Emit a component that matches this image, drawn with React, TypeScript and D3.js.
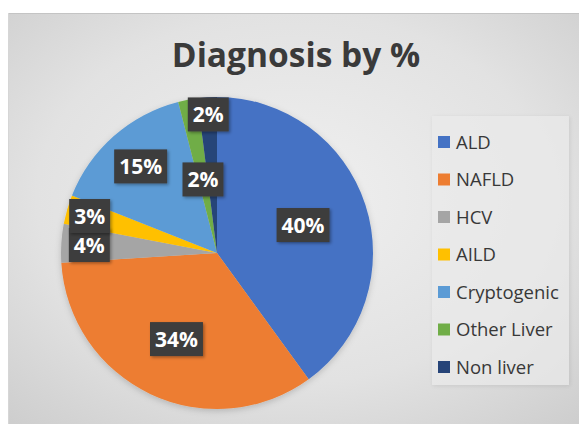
import React, { useEffect, useRef } from "react";
import * as d3 from "d3";

const categories = ["ALD", "NAFLD", "HCV", "AILD", "Cryptogenic", "Other Liver", "Non liver"];
const values = [40, 34, 4, 3, 15, 2, 2];
const labels = ["40%", "34%", "4%", "3%", "15%", "2%", "2%"];
const colors = ["#4472C4", "#ED7D31", "#A5A5A5", "#FFC000", "#5B9BD5", "#70AD47", "#264478"];
// label radius as fraction of pie radius (Excel "best fit" placement)
const labelRadiusFactor = [0.58, 0.61, 0.82, 0.85, 0.74, 0.48, 0.89];

const W = 579;
const H = 424;

export default function App() {
  const ref = useRef<SVGSVGElement | null>(null);

  useEffect(() => {
    const svg = d3.select(ref.current);
    svg.selectAll("*").remove();

    const defs = svg.append("defs");
    const bg = defs.append("radialGradient").attr("id", "bg").attr("cx", "50%").attr("cy", "45%").attr("r", "75%");
    bg.append("stop").attr("offset", "0%").attr("stop-color", "#f0f0f0");
    bg.append("stop").attr("offset", "60%").attr("stop-color", "#e2e2e2");
    bg.append("stop").attr("offset", "100%").attr("stop-color", "#cdcdcd");

    const sh = defs.append("filter").attr("id", "sh").attr("x", "-20%").attr("y", "-20%").attr("width", "140%").attr("height", "140%");
    sh.append("feDropShadow").attr("dx", 1.5).attr("dy", 1.5).attr("stdDeviation", 1.5).attr("flood-color", "#000").attr("flood-opacity", 0.35);
    const psh = defs.append("filter").attr("id", "psh").attr("x", "-20%").attr("y", "-20%").attr("width", "140%").attr("height", "140%");
    psh.append("feDropShadow").attr("dx", 0).attr("dy", 2).attr("stdDeviation", 3).attr("flood-color", "#000").attr("flood-opacity", 0.18);
    const lsh = defs.append("filter").attr("id", "lsh").attr("x", "-10%").attr("y", "-10%").attr("width", "120%").attr("height", "120%");
    lsh.append("feDropShadow").attr("dx", 1).attr("dy", 1).attr("stdDeviation", 2).attr("flood-color", "#000").attr("flood-opacity", 0.12);

    // frame
    svg.append("rect").attr("x", 8).attr("y", 13).attr("width", W - 8).attr("height", H - 13).attr("fill", "url(#bg)");
    svg.append("line").attr("x1", 8).attr("x2", W).attr("y1", 13.5).attr("y2", 13.5).attr("stroke", "#c4c4c4").attr("stroke-width", 1);
    svg.append("line").attr("x1", 8.5).attr("x2", 8.5).attr("y1", 13).attr("y2", H).attr("stroke", "#d6d6d6").attr("stroke-width", 1);

    // title
    svg.append("text")
      .attr("x", 296).attr("y", 67)
      .attr("text-anchor", "middle")
      .attr("font-family", "'Open Sans', sans-serif")
      .attr("font-weight", 700)
      .attr("font-size", 33.5)
      .attr("fill", "#3a3a3a")
      .text("Diagnosis by %");

    // pie
    const cx = 217, cy = 253, r = 156;
    const pie = d3.pie<number>().sort(null).value((d) => d);
    const arcs = pie(values);
    const arc = d3.arc<d3.PieArcDatum<number>>().innerRadius(0).outerRadius(r);
    const g = svg.append("g").attr("transform", `translate(${cx},${cy})`);
    g.append("g").attr("filter", "url(#psh)")
      .selectAll("path").data(arcs).enter().append("path")
      .attr("d", arc as any)
      .attr("fill", (_d, i) => colors[i]);

    // labels
    const lg = g.append("g");
    arcs.forEach((a, i) => {
      const mid = (a.startAngle + a.endAngle) / 2;
      const rr = r * labelRadiusFactor[i];
      const x = Math.sin(mid) * rr;
      const y = -Math.cos(mid) * rr;
      const grp = lg.append("g").attr("transform", `translate(${x},${y})`);
      const rect = grp.append("rect").attr("fill", "#3c3c3c").attr("filter", "url(#sh)");
      const t = grp.append("text")
        .attr("text-anchor", "middle")
        .attr("y", 8)
        .attr("font-family", "'Open Sans', sans-serif")
        .attr("font-weight", 700)
        .attr("font-size", 21)
        .attr("fill", "#ffffff")
        .text(labels[i]);
      const tw = (t.node() as SVGTextElement).getComputedTextLength();
      const bw = tw + 10;
      const bh = 34;
      rect.attr("x", -bw / 2).attr("y", -bh / 2).attr("width", bw).attr("height", bh);
    });

    // legend
    const legend = svg.append("g");
    legend.append("rect").attr("x", 432).attr("y", 116).attr("width", 137).attr("height", 269)
      .attr("fill", "#ebebeb").attr("opacity", 0.7).attr("filter", "url(#lsh)");
    const y0 = 142, step = 37.5;
    categories.forEach((c, i) => {
      const yy = y0 + i * step;
      legend.append("rect").attr("x", 438).attr("y", yy - 6).attr("width", 12).attr("height", 12).attr("fill", colors[i]);
      legend.append("text")
        .attr("x", 456).attr("y", yy + 6.5)
        .attr("font-family", "'Open Sans', sans-serif")
        .attr("font-size", 18.5)
        .attr("fill", "#383838")
        .text(c);
    });
  }, []);

  return (
    <svg
      ref={ref}
      width={W}
      height={H}
      style={{ position: "absolute", left: 0, top: 0, display: "block", background: "#ffffff" }}
    />
  );
}
